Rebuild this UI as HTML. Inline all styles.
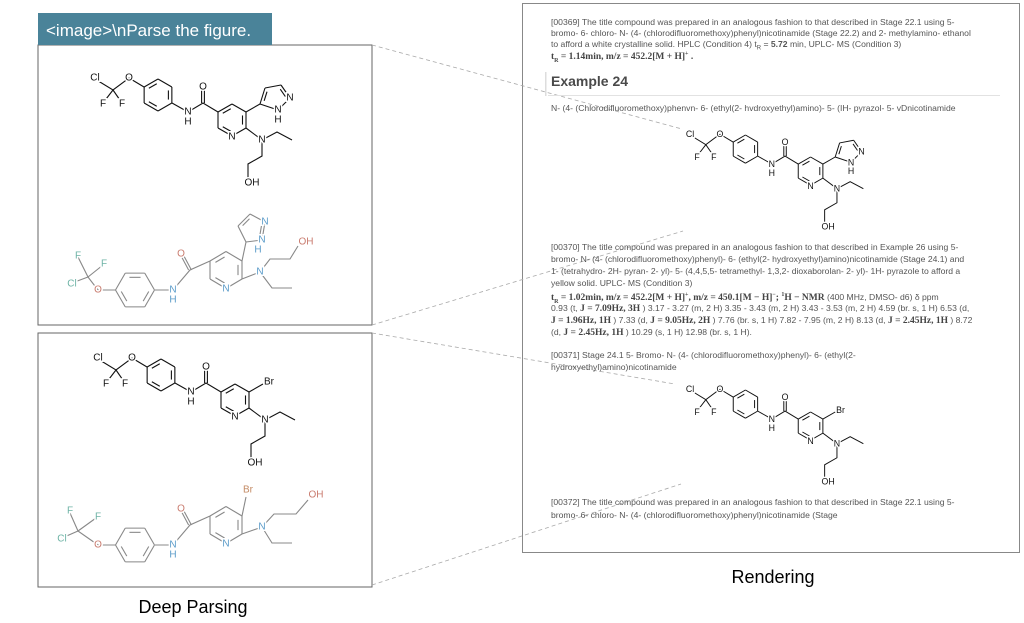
<!DOCTYPE html>
<html><head><meta charset="utf-8">
<style>
html,body{margin:0;padding:0;background:#fff;}
body{width:1024px;height:623px;position:relative;overflow:hidden;font-family:"Liberation Sans",sans-serif;}
.t{position:absolute;left:551px;font-size:8.6px;color:#555;white-space:nowrap;line-height:10px;}
.m{font-family:"Liberation Serif",serif;font-size:9.5px;color:#444;font-weight:bold;}
.m span{font-weight:normal;font-family:"Liberation Sans",sans-serif;font-size:8.6px;color:#555;}
svg{position:absolute;left:0;top:0;}
</style></head><body>
<svg id="s" width="1024" height="623" viewBox="0 0 1024 623">
<rect x="38" y="45" width="334" height="280" fill="none" stroke="#666" stroke-width="1"/>
<rect x="38" y="333" width="334" height="254" fill="none" stroke="#666" stroke-width="1"/>
<rect x="522.5" y="3.5" width="497" height="549" fill="none" stroke="#888" stroke-width="1"/>
<rect x="38" y="13" width="234" height="32" fill="#4a8399"/>
<text x="46" y="36" font-size="17" fill="#fff" font-family="Liberation Sans">&lt;image&gt;\nParse the figure.</text>
<g stroke="#aaa" stroke-width="0.8" stroke-dasharray="4,3" fill="none">
<line x1="372" y1="45" x2="682" y2="129"/>
<line x1="372" y1="325" x2="683" y2="231"/>
<line x1="372" y1="333" x2="675" y2="384"/>
<line x1="372" y1="585" x2="681" y2="484"/>
</g>
<rect x="545" y="72" width="1.5" height="24" fill="#ddd"/>
<line x1="548" y1="95.5" x2="1000" y2="95.5" stroke="#e2e2e2" stroke-width="1"/>
<text x="193" y="613" font-size="18" text-anchor="middle" font-family="Liberation Sans">Deep Parsing</text>
<text x="773" y="583" font-size="18" text-anchor="middle" font-family="Liberation Sans">Rendering</text>
<g id="mol"></g>
</svg>

<div class="t" style="top:17px">[00369] The title compound was prepared in an analogous fashion to that described in Stage 22.1 using 5-</div>
<div class="t" style="top:28px">bromo- 6- chloro- N- (4- (chlorodifluoromethoxy)phenyl)nicotinamide (Stage 22.2) and 2- methylamino- ethanol</div>
<div class="t" style="top:39px">to afford a white crystalline solid. HPLC (Condition 4) t<sub style="font-size:6px">R</sub> = <b>5.72</b> min, UPLC- MS (Condition 3)</div>
<div class="t m" style="top:49px">t<sub style="font-size:6px">R</sub> = 1.14min, m/z = 452.2[M + H]<sup style="font-size:6px">+</sup> .</div>
<div class="t" style="top:73px;font-size:14px;color:#4a4a4a;font-weight:bold;line-height:16px;">Example 24</div>
<div class="t" style="top:103px">N- (4- (Chlorodifluoromethoxy)phenvn- 6- (ethyl(2- hvdroxyethyl)amino)- 5- (IH- pyrazol- 5- vDnicotinamide</div>

<div class="t" style="top:242px">[00370] The title compound was prepared in an analogous fashion to that described in Example 26 using 5-</div>
<div class="t" style="top:254px">bromo- N- (4- (chlorodifluoromethoxy)phenyl)- 6- (ethyl(2- hydroxyethyl)amino)nicotinamide (Stage 24.1) and</div>
<div class="t" style="top:266px">1- (tetrahydro- 2H- pyran- 2- yl)- 5- (4,4,5,5- tetramethyl- 1,3,2- dioxaborolan- 2- yl)- 1H- pyrazole to afford a</div>
<div class="t" style="top:278px">yellow solid. UPLC- MS (Condition 3)</div>
<div class="t m" style="top:290px">t<sub style="font-size:6px">R</sub> = 1.02min, m/z = 452.2[M + H]<sup style="font-size:6px">+</sup>, m/z = 450.1[M − H]<sup style="font-size:6px">−</sup>; <sup style="font-size:6px">1</sup>H − NMR <span>(400 MHz, DMSO- d6) δ ppm</span></div>
<div class="t" style="top:303px">0.93 (t, <b class="m">J = 7.09Hz, 3H</b> ) 3.17 - 3.27 (m, 2 H) 3.35 - 3.43 (m, 2 H) 3.43 - 3.53 (m, 2 H) 4.59 (br. s, 1 H) 6.53 (d,</div>
<div class="t" style="top:315px"><b class="m">J = 1.96Hz, 1H</b> ) 7.33 (d, <b class="m">J = 9.05Hz, 2H</b> ) 7.76 (br. s, 1 H) 7.82 - 7.95 (m, 2 H) 8.13 (d, <b class="m">J = 2.45Hz, 1H</b> ) 8.72</div>
<div class="t" style="top:327px">(d, <b class="m">J = 2.45Hz, 1H</b> ) 10.29 (s, 1 H) 12.98 (br. s, 1 H).</div>
<div class="t" style="top:350px">[00371] Stage 24.1 5- Bromo- N- (4- (chlorodifluoromethoxy)phenyl)- 6- (ethyl(2-</div>
<div class="t" style="top:362px">hydroxyethyl)amino)nicotinamide</div>
<div class="t" style="top:497px">[00372] The title compound was prepared in an analogous fashion to that described in Stage 22.1 using 5-</div>
<div class="t" style="top:510px">bromo- 6- chloro- N- (4- (chlorodifluoromethoxy)phenyl)nicotinamide (Stage</div>

<script>
var NS="http://www.w3.org/2000/svg",root=document.getElementById("mol");
function el(p,n,a){var e=document.createElementNS(NS,n);for(var k in a)e.setAttribute(k,a[k]);p.appendChild(e);return e;}
function hex(cx,cy,r,a0){var v=[];for(var i=0;i<6;i++){var a=(a0+60*i)*Math.PI/180;v.push([cx+r*Math.cos(a),cy+r*Math.sin(a)]);}return v;}
function ring(g,v,col,dbl,sw){var n=v.length,cx=0,cy=0;v.forEach(function(p){cx+=p[0];cy+=p[1];});cx/=n;cy/=n;
 for(var i=0;i<n;i++){var a=v[i],b=v[(i+1)%n];el(g,"line",{x1:a[0],y1:a[1],x2:b[0],y2:b[1],stroke:col,"stroke-width":sw});
  if(dbl.indexOf(i)>=0){var f=0.75;function s(p){return [cx+(p[0]-cx)*f,cy+(p[1]-cy)*f];}var A=s(a),B=s(b);
   var mA=[A[0]+(B[0]-A[0])*0.12,A[1]+(B[1]-A[1])*0.12],mB=[B[0]-(B[0]-A[0])*0.12,B[1]-(B[1]-A[1])*0.12];
   el(g,"line",{x1:mA[0],y1:mA[1],x2:mB[0],y2:mB[1],stroke:col,"stroke-width":sw});}}}
function path(g,pts,col,sw){el(g,"polyline",{points:pts.map(function(p){return p.join(",")}).join(" "),fill:"none",stroke:col,"stroke-width":sw});}
function lab(g,x,y,t,col,fs){var e=el(g,"text",{x:x,y:y,"text-anchor":"middle","dominant-baseline":"central","font-size":fs,fill:col,"font-family":"Liberation Sans",stroke:"#fff","stroke-width":3,"paint-order":"stroke"});e.textContent=t;}
function dbl(g,a,b,col,sw,o){path(g,[[a[0]-o,a[1]],[b[0]-o,b[1]]],col,sw);path(g,[[a[0]+o,a[1]],[b[0]+o,b[1]]],col,sw);}

function molA(tr,br){var g=el(root,"g",{transform:tr});var k="#111",sw=1.1,fs=10;
 path(g,[[95,79],[113,90],[129,78]],k,sw);path(g,[[113,90],[103,103]],k,sw);path(g,[[113,90],[122,103]],k,sw);
 path(g,[[129,78],[144,87]],k,sw);
 ring(g,hex(158,95,16,-150),k,[0,2,4],sw);
 path(g,[[172,103],[188,112],[203,103],[218,112]],k,sw);
 dbl(g,[203,103],[203,88],k,sw,1.4);
 ring(g,[[218,112],[232,104],[246,112],[246,128],[232,136],[218,128]],k,[0,2,4],sw);
 path(g,[[246,112],[260,104]],k,sw);
 if(br){lab(g,266,102,"Br",k,fs);}
 else{ring(g,[[260,104],[265,88],[281,85],[290,98],[278,110]],k,[0,2],sw);
  lab(g,290,98,"N",k,fs);lab(g,278,110,"N",k,fs);lab(g,278,120,"H",k,fs);}
 path(g,[[246,128],[262,140],[277,132],[292,140]],k,sw);
 path(g,[[262,140],[262,156],[248,164],[248,178]],k,sw);
 lab(g,95,78,"Cl",k,fs);lab(g,103,104,"F",k,fs);lab(g,122,104,"F",k,fs);lab(g,129,78,"O",k,fs);
 lab(g,188,112,"N",k,fs);lab(g,188,122,"H",k,fs);lab(g,203,87,"O",k,fs);lab(g,232,137,"N",k,fs);
 lab(g,262,140,"N",k,fs);lab(g,252,183,"OH",k,fs);}

function molB(tr,br){var g=el(root,"g",{transform:tr});var c="#888",N="#5b9bc9",O="#c97b6e",H="#6db3a5",B="#c38a63",sw=1.1,fs=10;
 if(br){path(g,[[62,283],[78,276],[98,290]],c,sw);path(g,[[78,276],[70,258]],c,sw);path(g,[[78,276],[96,263]],c,sw);}
 else{path(g,[[72,283],[88,277],[98,290]],c,sw);path(g,[[88,277],[78,257]],c,sw);path(g,[[88,277],[103,265]],c,sw);}
 path(g,[[98,290],[116,290]],c,sw);
 ring(g,hex(135,290,19.5,0),c,[0,2,4],sw);
 path(g,[[155,290],[173,290],[190,270],[210,261]],c,sw);
 dbl(g,[190,270],[182,255],c,sw,1.4);
 ring(g,[[210,261],[226,251.5],[242,261],[242,279],[226,288.5],[210,279]],c,[0,2,4],sw);
 path(g,[[242,261],[246,242]],c,sw);
 if(br){lab(g,248,235,"Br",B,fs);
  path(g,[[242,279],[262,272],[274,259],[296,259],[308,245]],c,sw);lab(g,316,240,"OH",O,fs);}
 else{ring(g,[[246,242],[238,226],[250,214],[265,222],[262,240]],c,[1,3],sw);
  lab(g,265,222,"N",N,fs);lab(g,262,240,"N",N,fs);lab(g,258,250,"H",N,fs);
  path(g,[[242,279],[260,272],[270,259],[290,259],[298,246]],c,sw);lab(g,306,242,"OH",O,fs);}
 var ax=br?262:260,ay=272;
 path(g,[[ax,ay],[272,288],[292,288]],c,sw);
 lab(g,ax,ay,"N",N,fs);
 if(br){lab(g,62,284,"Cl",H,fs);lab(g,70,256,"F",H,fs);lab(g,98,262,"F",H,fs);}
 else{lab(g,72,284,"Cl",H,fs);lab(g,78,256,"F",H,fs);lab(g,104,264,"F",H,fs);}
 lab(g,98,290,"O",O,fs);lab(g,173,290,"N",N,fs);lab(g,173,300,"H",N,fs);lab(g,181,254,"O",O,fs);lab(g,226,289,"N",N,fs);}

molA("",false);
molB("",false);
molA("translate(3,280)",true);
molB("translate(0,255)",true);
molA("translate(690,135) scale(0.88) translate(-95,-79)",false);
molA("translate(690,390) scale(0.88) translate(-95,-79)",true);
</script>
</body></html>
